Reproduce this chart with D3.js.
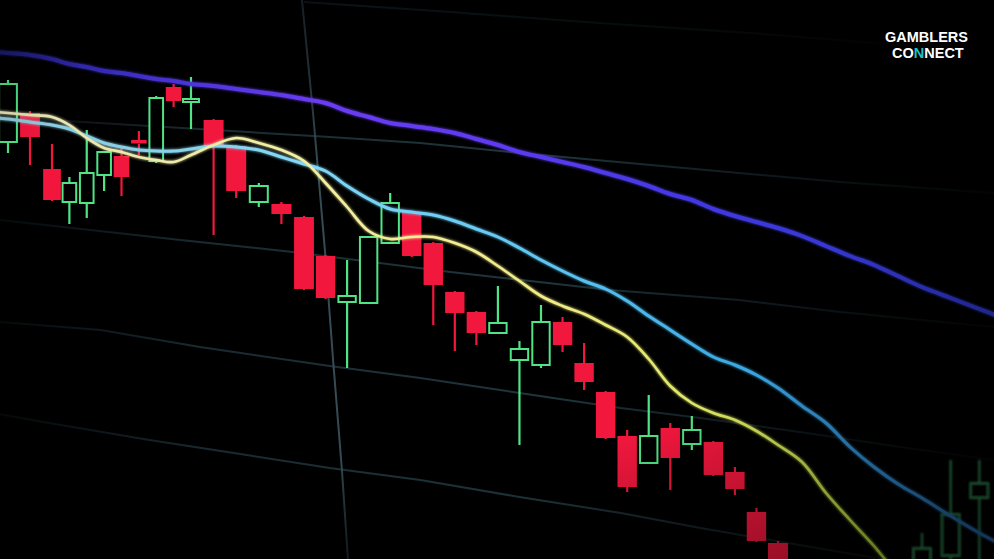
<!DOCTYPE html>
<html><head><meta charset="utf-8">
<script src="https://cdn.jsdelivr.net/npm/d3@7"></script>
<style>html,body{margin:0;padding:0;background:#000;overflow:hidden}svg{display:block}</style>
</head><body><svg id="chart" width="994" height="559"></svg>
<script>
// ---- data (price units) ----
const candleIndex = d3.range(0, 46);
const openP  = [458,487,431,398,397,425,444,459,439,513,498,480,454,398,396,383,344,298,297,357,388,357,308,288,267,240,235,278,237,208,164,137,172,156,158,128,88,57,22,-10,-50,-35,-14,10,44,102];
const highP  = [520,489,456,423,470,449,453,469,504,516,523,481,455,417,398,384,345,340,364,407,389,358,309,289,314,259,295,283,257,209,170,205,177,184,159,133,92,59,28,-5,-20,-8,-10,67,140,140];
const lowP   = [447,435,399,376,382,409,404,445,437,493,471,365,402,393,376,310,301,232,296,356,343,275,249,255,266,155,232,248,210,161,108,136,110,150,124,105,58,10,-20,-60,-65,-45,-50,0,25,0];
const closeP = [516,463,400,417,427,448,423,456,502,499,501,453,409,414,386,311,302,304,363,397,344,315,287,267,277,251,278,255,218,162,113,164,142,170,125,111,59,20,-12,-45,-30,-15,-40,52,86,117];

// moving averages, starting at index -1
const maStart = -1;
const maFast   = [489,487,485,483,475,462,452,448,443,440,438,445,455,462,457,450,439,417,393,369,361,363,363,357,348,334,319,304,294,286,275,263,241,214,197,187,180,169,155,138,107,80,54,25,0,-30];
const maMedium = [483,481,478,475,471,464,457,453,450,449,449,451,454,453,450,443,436,429,414,401,391,388,385,379,371,363,352,340,329,319,311,299,284,270,256,243,235,225,212,194,177,153,133,116,102,84,67,52];
const maSlow   = [549,547,545,541,536,533,529,527,524,521,519,516,514,511,508,505,501,497,489,483,477,474,471,467,461,455,448,443,438,433,427,421,414,406,400,391,384,378,372,364,354,344,335,324,313,302,291,280];

// grid lines in (index, price) space (screen seen in perspective)
const gridA = [[-0.4,483],[7.6,474],[16.2,463],[20.4,457],[25,447],[31.1,435],[39.6,418],[45.5,407],[47,404]];
const gridB = [[-0.4,380],[9.4,360],[14.5,348],[21.8,328],[29.2,310],[35.2,300],[39.6,288],[45.5,273],[47,270]];
const gridC = [[-0.4,278],[4.8,270],[10.4,253],[16.2,234],[20.4,222],[25,207],[29.7,192],[33.4,182],[37.9,168],[42.1,153],[45.5,140],[47,136]];
const gridD = [[-0.4,186],[1.6,178],[7.6,160],[11.9,147],[16.2,132],[20.4,120],[25,103],[29.7,87],[33.4,72],[37.9,55],[41.3,41],[45.5,20],[47,15]];
const gridTop = [[15,598],[21.8,588],[28.7,577],[35.7,567],[42.1,555]];
const gridV = [[14.9,605],[14.91,600],[15.42,487],[15.97,350],[16.35,240],[16.76,130],[17.04,41],[17.1,30]];

// ---- drawing ----
const W = 994, H = 559;
const svg = d3.select('#chart');
const x = d3.scaleLinear().domain([0,2,10,15,37,43,46]).range([8,52,191,304,778,922,1008]);
const y = d3.scaleLinear().domain([41,600]).range([559,0]);

const defs = svg.append('defs');
const glow = defs.append('filter').attr('id','glow').attr('x','-10%').attr('y','-10%').attr('width','120%').attr('height','120%');
glow.append('feGaussianBlur').attr('in','SourceGraphic').attr('stdDeviation',1.6).attr('result','b');
const gm = glow.append('feMerge'); gm.append('feMergeNode').attr('in','b'); gm.append('feMergeNode').attr('in','SourceGraphic');
defs.append('filter').attr('id','blurL').append('feGaussianBlur').attr('stdDeviation',0.6);
defs.append('filter').attr('id','blurR').append('feGaussianBlur').attr('stdDeviation',1.1);

function grad(id, stops){
  const g = defs.append('linearGradient').attr('id',id).attr('gradientUnits','userSpaceOnUse')
    .attr('x1',0).attr('x2',W).attr('y1',0).attr('y2',0);
  stops.forEach(s => g.append('stop').attr('offset',s[0]).attr('stop-color',s[1]).attr('stop-opacity',s[2]===undefined?1:s[2]));
}
grad('gYellow',[[0,'#e6e4b4'],[0.3,'#f3efa2'],[0.55,'#f1ec86'],[0.75,'#d9e65c'],[0.9,'#b0d63a']]);
grad('gCyan',[[0,'#8ccbdc'],[0.3,'#82d8f6'],[0.55,'#5fc6f2'],[0.75,'#3aa7e2'],[0.9,'#2c80c4'],[1,'#235e9c']]);
grad('gPurple',[[0,'#1e1c78',0.8],[0.08,'#3129b0'],[0.2,'#4f35de'],[0.32,'#6a3cf2'],[0.5,'#5e3bf0'],[0.7,'#4239e2'],[0.9,'#3236cc'],[1,'#2831b6']]);
grad('gGrid',[[0,'#1c3038',0.2],[0.2,'#233d46',0.7],[0.55,'#243f48',0.85],[0.8,'#1c3038',0.45],[1,'#152228',0.15]]);
grad('gGridTop',[[0,'#14232a',0],[0.35,'#15262c',0.5],[0.7,'#111e23',0.35],[1,'#0e171b',0]]);
const vg = defs.append('linearGradient').attr('id','gV').attr('x1',0).attr('x2',0).attr('y1',0).attr('y2',1);
[[0,'#2a3c44',0.5],[0.3,'#3a545e',0.9],[0.8,'#3a545e',0.9],[1,'#2a3c44',0.5]].forEach(s=>vg.append('stop').attr('offset',s[0]).attr('stop-color',s[1]).attr('stop-opacity',s[2]));
const rg = defs.append('radialGradient').attr('id','vig').attr('cx','42%').attr('cy','42%').attr('r','75%');
rg.append('stop').attr('offset',0.55).attr('stop-color','#000').attr('stop-opacity',0);
rg.append('stop').attr('offset',1).attr('stop-color','#000').attr('stop-opacity',0.45);

svg.append('rect').attr('width',W).attr('height',H).attr('fill','#000');

const line = d3.line().x(d => x(d[0])).y(d => y(d[1]));
const gGrid = svg.append('g');
[gridA, gridB, gridC, gridD].forEach(g => gGrid.append('path').attr('d', line(g)).attr('fill','none')
  .attr('stroke','url(#gGrid)').attr('stroke-width',2));
gGrid.append('path').attr('d', line(gridTop)).attr('fill','none').attr('stroke','url(#gGridTop)').attr('stroke-width',2);
gGrid.append('path').attr('d', line(gridV)).attr('fill','none').attr('stroke','url(#gV)').attr('stroke-width',2);

// candles
const RED = '#f2173d', GREEN = '#50e487';
const candles = candleIndex.map(i => ({i, o:openP[i], h:highP[i], l:lowP[i], c:closeP[i]}));
const gC = svg.append('g');
candles.forEach(d => {
  const cx = x(d.i);
  const s = x(d.i + 0.5) - x(d.i - 0.5);
  const w = Math.max(15, Math.min(20, 0.9 * s));
  const up = d.c >= d.o;
  const top = y(Math.max(d.o, d.c)), bot = y(Math.min(d.o, d.c));
  const g = gC.append('g');
  if (d.i <= 3) g.attr('filter','url(#blurL)');
  if (d.i >= 40) g.attr('filter','url(#blurR)').attr('opacity',0.6);
  const col = up ? GREEN : RED;
  g.append('line').attr('x1',cx).attr('x2',cx).attr('y1',y(d.h)).attr('y2',top).attr('stroke',col).attr('stroke-width',2.2);
  g.append('line').attr('x1',cx).attr('x2',cx).attr('y1',bot).attr('y2',y(d.l)).attr('stroke',col).attr('stroke-width',2.2);
  if (up) {
    const hgt = Math.max(bot - top, 3);
    g.append('rect').attr('x',cx - w/2 + 1).attr('y',top).attr('width',w - 2).attr('height',hgt)
      .attr('fill','#000').attr('stroke',GREEN).attr('stroke-width',2);
  } else {
    const hgt = Math.max(bot - top, 3.5);
    g.append('rect').attr('x',cx - w/2).attr('y',top - (hgt > bot-top ? 1 : 0)).attr('width',w).attr('height',hgt).attr('fill',RED);
  }
});

// moving averages
const maLine = d3.line().curve(d3.curveCatmullRom.alpha(0.5)).x((d,k) => x(maStart + k)).y(d => y(d));
const gL = svg.append('g').attr('filter','url(#glow)');
gL.append('path').attr('d', maLine(maSlow)).attr('fill','none').attr('stroke','url(#gPurple)').attr('stroke-width',4).attr('stroke-linecap','round');
gL.append('path').attr('d', maLine(maMedium)).attr('fill','none').attr('stroke','url(#gCyan)').attr('stroke-width',3).attr('stroke-linecap','round');
gL.append('path').attr('d', maLine(maFast)).attr('fill','none').attr('stroke','url(#gYellow)').attr('stroke-width',2.6).attr('stroke-linecap','round');

// vignette
svg.append('rect').attr('width',W).attr('height',H).attr('fill','url(#vig)');

// logo
const logo = svg.append('g').attr('font-family','"Liberation Sans", Arial, sans-serif').attr('font-weight',700).attr('font-size',14.5);
logo.append('text').attr('x',885).attr('y',42).attr('fill','#fff').text('GAMBLERS');
const t2 = logo.append('text').attr('x',892).attr('y',58.4).attr('fill','#fff');
t2.append('tspan').text('CO');
t2.append('tspan').attr('fill','#1cc2c6').text('N');
t2.append('tspan').text('NECT');
</script></body></html>
